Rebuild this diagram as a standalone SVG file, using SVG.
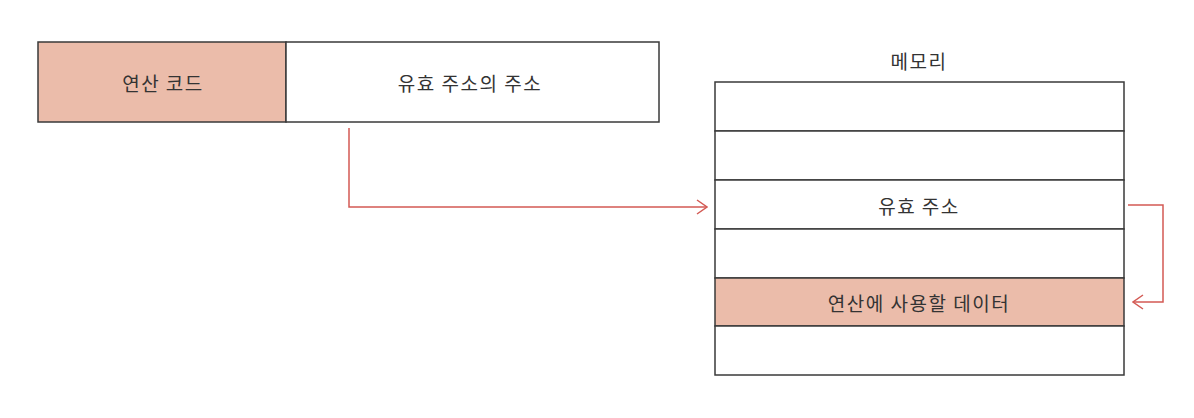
<svg xmlns="http://www.w3.org/2000/svg" width="1194" height="418" viewBox="0 0 1194 418">
<defs>
<style>
.box{stroke:#3a3a3a;stroke-width:1.5;}
.hi{fill:#ebbcaa;}
.wh{fill:#ffffff;}
.t{font-family:"Noto Sans CJK KR","Noto Sans",sans-serif;font-size:19px;letter-spacing:1.5px;fill:#333;text-anchor:middle;dominant-baseline:central;}
.conn{fill:none;stroke:#d35a54;stroke-width:1.5;}
</style>
<marker id="ah" viewBox="0 0 12 16" refX="11" refY="8" markerWidth="12" markerHeight="16" markerUnits="userSpaceOnUse" orient="auto">
<path d="M1,1 L11,8 L1,15" fill="none" stroke="#d35a54" stroke-width="1.5"/>
</marker>
</defs>
<rect width="1194" height="418" fill="#ffffff"/>
<g id="instruction">
<rect class="box hi" x="38" y="42" width="248" height="80"/>
<rect class="box wh" x="286" y="42" width="373" height="80"/>
<text class="t" x="163" y="82">연산 코드</text>
<text class="t" x="470" y="82">유효 주소의 주소</text>
</g>
<g id="memory">
<text class="t" x="919" y="60">메모리</text>
<rect class="box wh" x="715" y="82" width="409" height="49"/>
<rect class="box wh" x="715" y="131" width="409" height="49"/>
<rect class="box wh" x="715" y="180" width="409" height="49"/>
<rect class="box wh" x="715" y="229" width="409" height="49"/>
<rect class="box hi" x="715" y="278" width="409" height="48"/>
<rect class="box wh" x="715" y="326" width="409" height="49"/>
<text class="t" x="919" y="205">유효 주소</text>
<text class="t" x="919" y="302">연산에 사용할 데이터</text>
</g>
<g id="connectors">
<path class="conn" d="M349,128 V207 H707" marker-end="url(#ah)"/>
<path class="conn" d="M1128,205 H1163 V302 H1133" marker-end="url(#ah)"/>
</g>
</svg>
